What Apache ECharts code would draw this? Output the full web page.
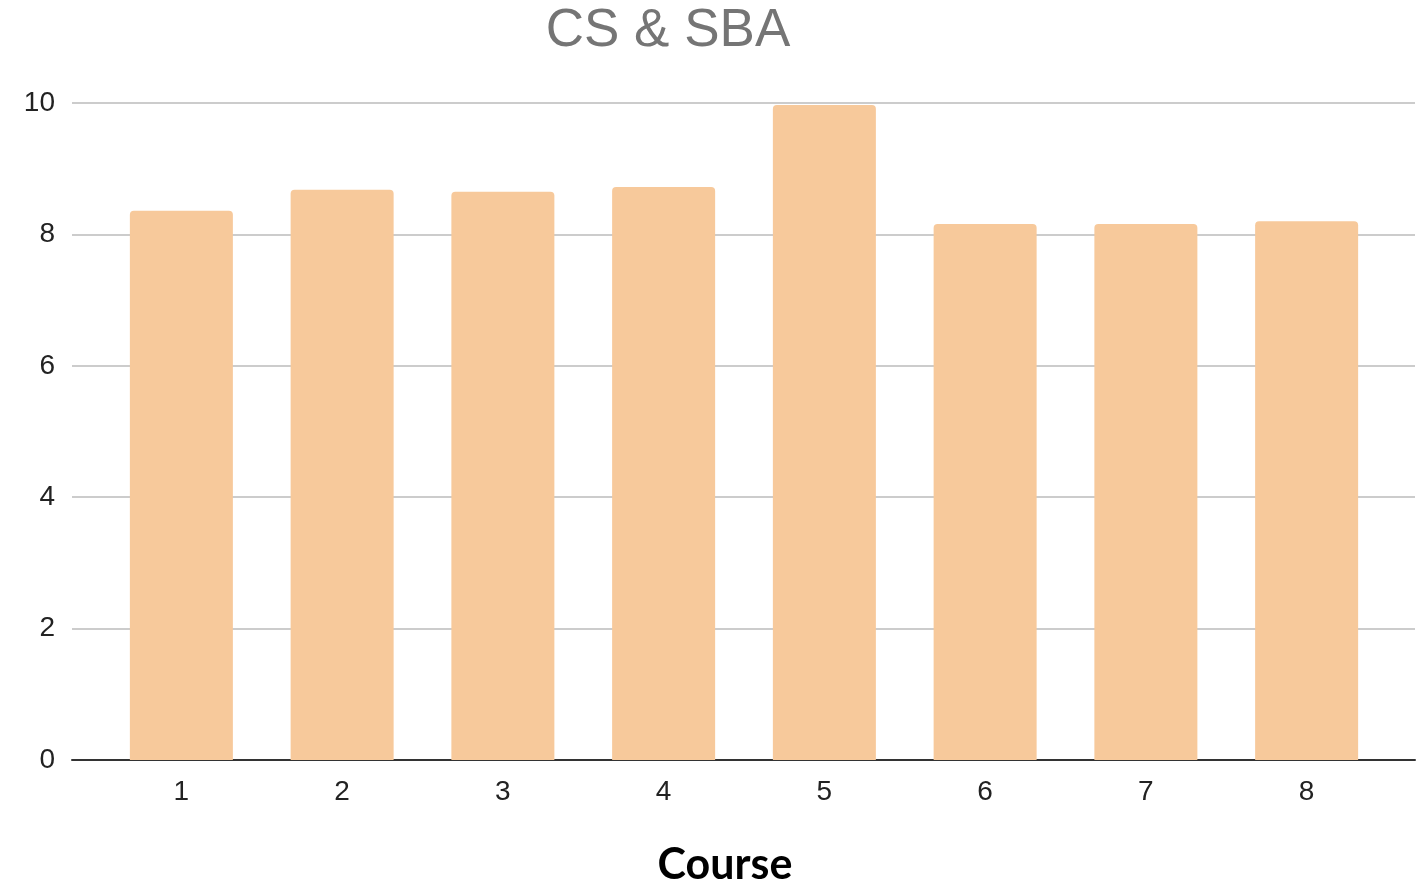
<!DOCTYPE html>
<html><head><meta charset="utf-8">
<script src="https://cdn.jsdelivr.net/npm/echarts@6/dist/echarts.min.js"></script>
<style>html,body{margin:0;padding:0;background:#fff}#c{width:1425px;height:887px}</style>
</head><body><div id="c"></div>
<script>
const categories = ['1','2','3','4','5','6','7','8'];
const values = [8.36, 8.68, 8.65, 8.72, 9.97, 8.16, 8.16, 8.20];
const yTicks = [0, 2, 4, 6, 8, 10];
const titleText = 'CS & SBA';
const xName = 'Course';

const chart = echarts.init(document.getElementById('c'), null, {renderer:'canvas'});
const gTop = 103, gBottom = 127;
chart.setOption({
  animation: false,
  backgroundColor: '#ffffff',
  title: [
    {text: titleText, left: 663, textAlign: 'center', top: 0,
     textStyle: {fontFamily: 'Liberation Sans, Arial', fontSize: 53, fontWeight: 'normal', color: '#757575'}},
    {text: xName, left: 720, textAlign: 'center', top: 839,
     textStyle: {fontFamily: 'Lato, Open Sans, sans-serif', fontSize: 43, fontWeight: 'bold', color: '#000'}}
  ],
  grid: [
    {left: 72, right: 10, top: gTop, bottom: gBottom},
    {left: 101, width: 1286, top: gTop, bottom: gBottom}
  ],
  xAxis: [
    {gridIndex: 0, type: 'category', data: categories, axisLabel: {show: false}, axisTick: {show: false},
     axisLine: {show: true, lineStyle: {color: '#333', width: 2}}},
    {gridIndex: 1, type: 'category', data: categories,
     axisLine: {show: false}, axisTick: {show: false},
     axisLabel: {margin: 18, fontFamily: 'Liberation Sans, Arial', fontSize: 28, color: '#222'}}
  ],
  yAxis: [
    {gridIndex: 0, type: 'value', min: yTicks[0], max: yTicks[yTicks.length-1], interval: 2,
     axisLine: {show: false}, axisTick: {show: false},
     axisLabel: {margin: 17, fontFamily: 'Liberation Sans, Arial', fontSize: 28, color: '#222'},
     splitLine: {lineStyle: {color: '#cccccc', width: 2}}},
    {gridIndex: 1, type: 'value', min: yTicks[0], max: yTicks[yTicks.length-1], interval: 2, show: false,
     splitLine: {show: false}}
  ],
  series: [{
    type: 'bar', xAxisIndex: 1, yAxisIndex: 1, data: values, barWidth: 103,
    itemStyle: {color: '#F7C99B', borderRadius: [4,4,0,0]}
  }]
});
</script></body></html>
